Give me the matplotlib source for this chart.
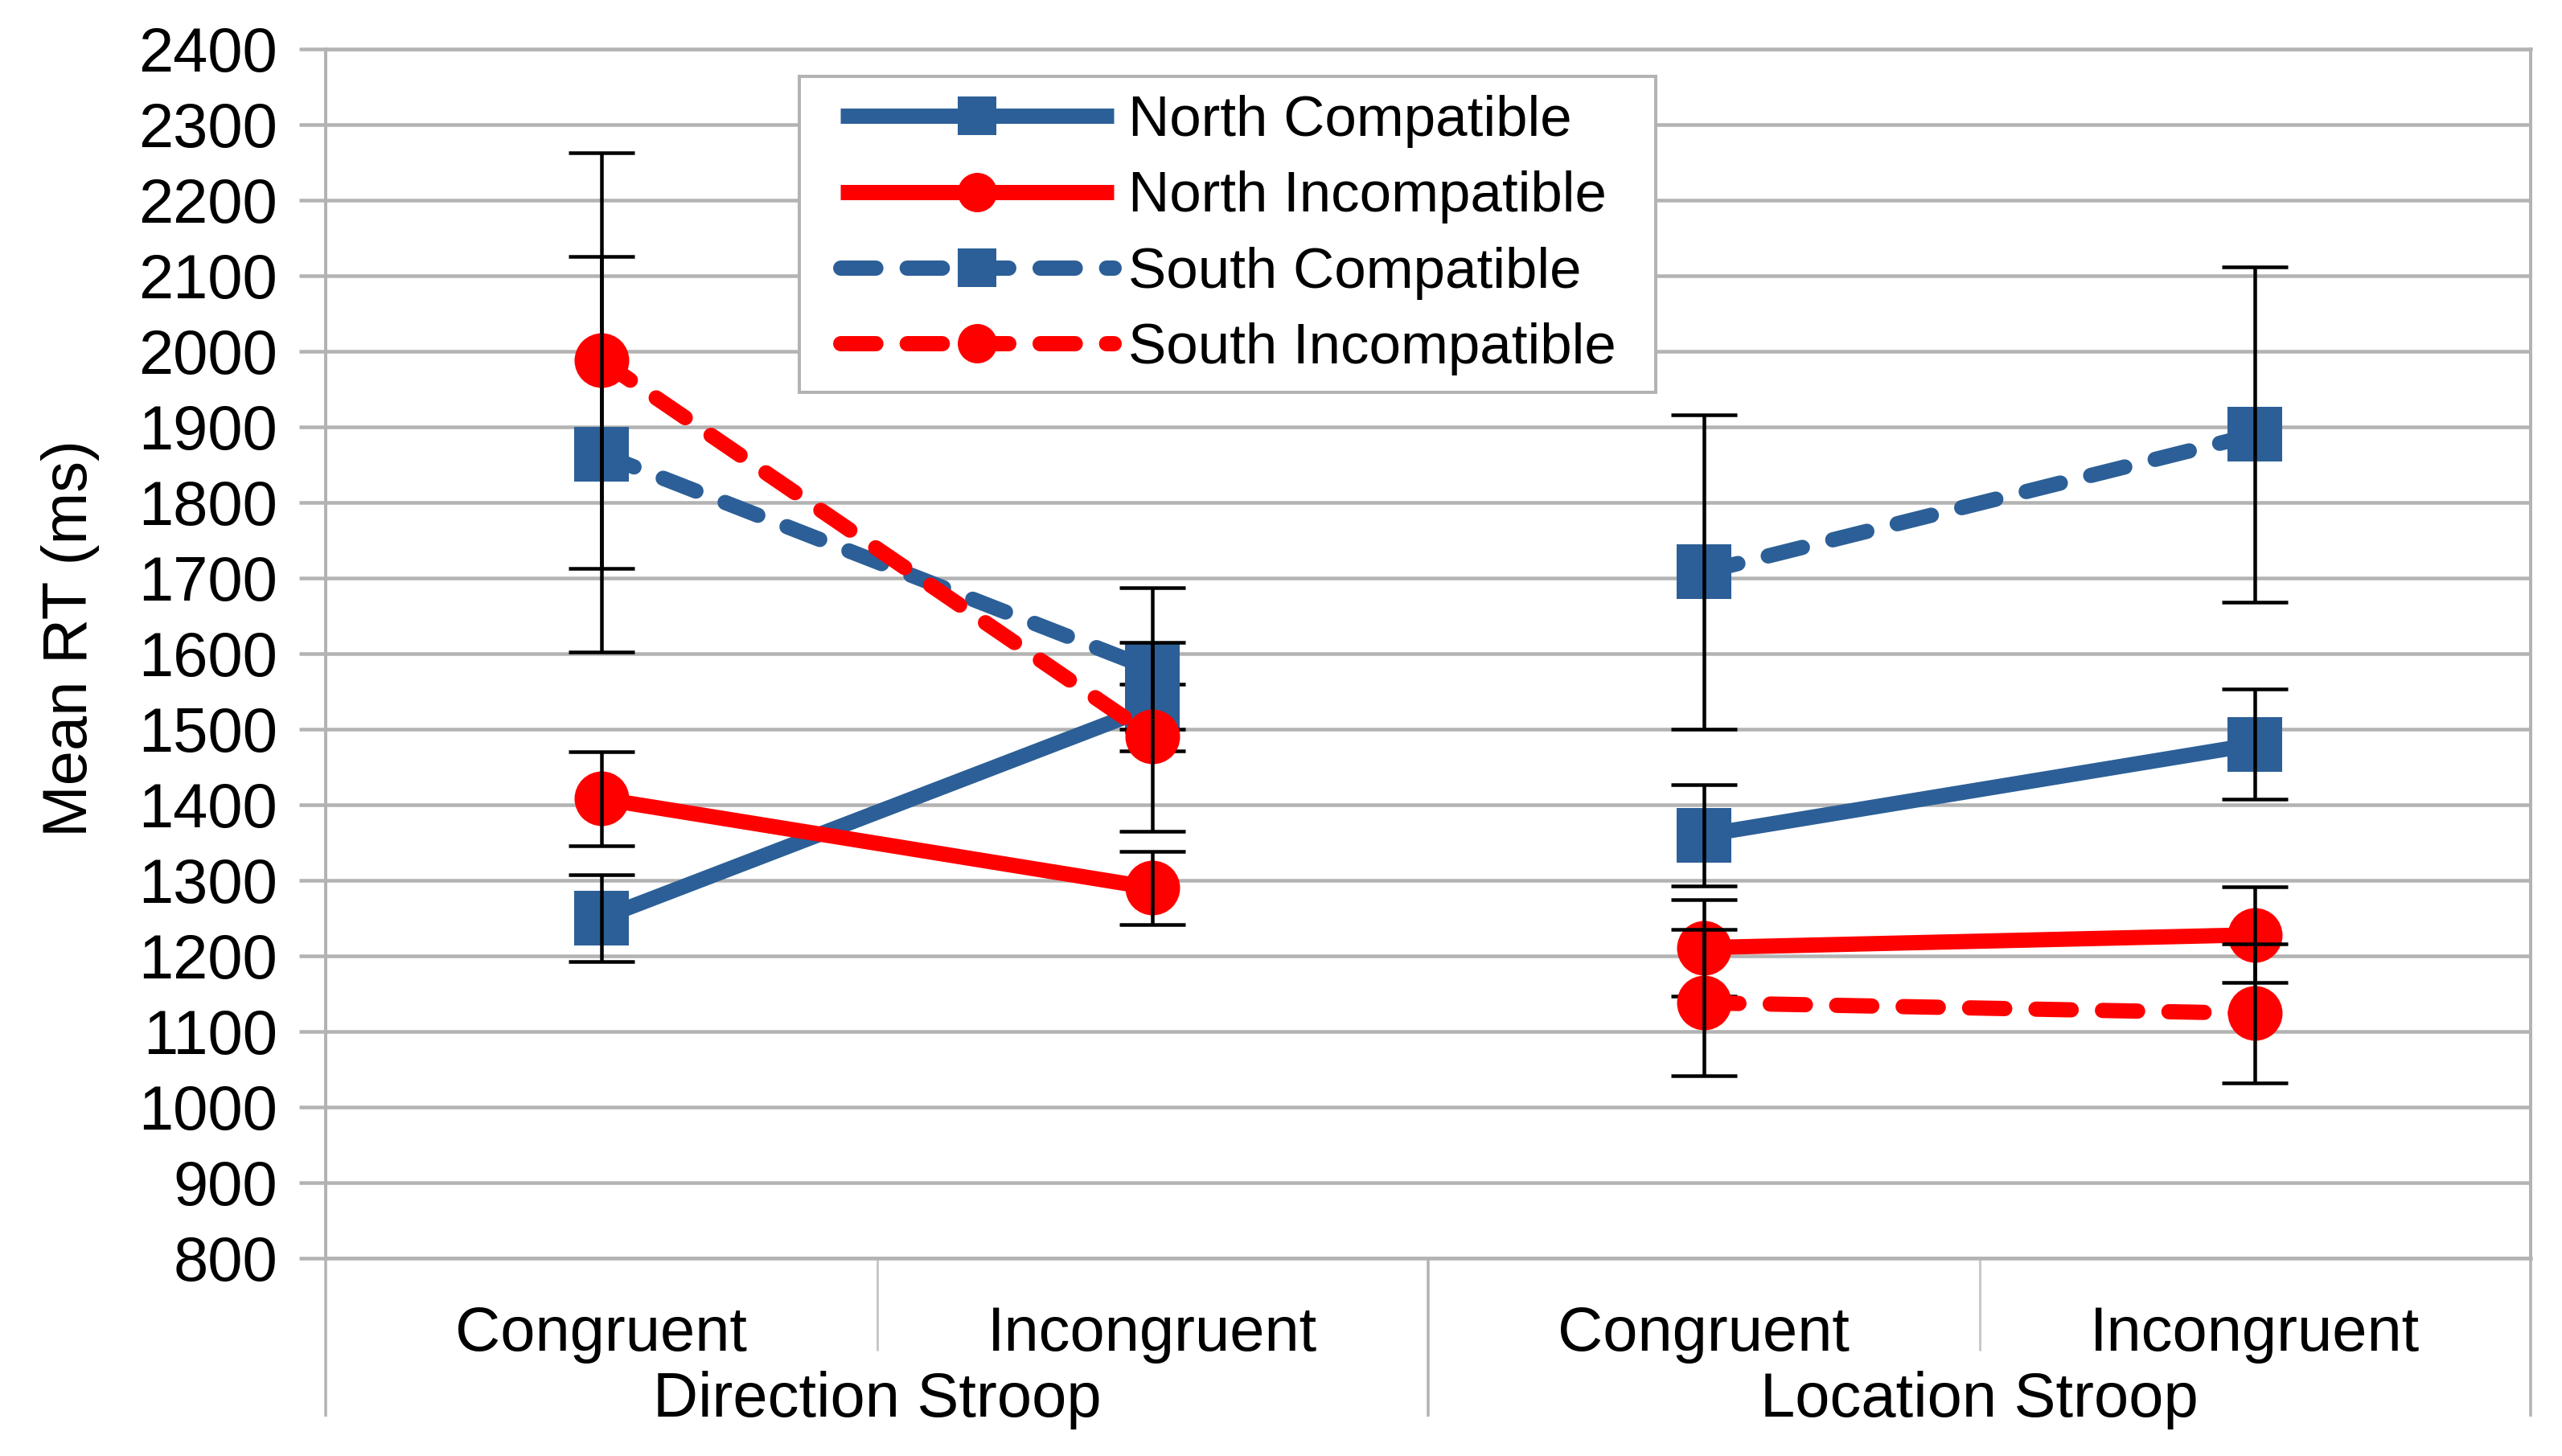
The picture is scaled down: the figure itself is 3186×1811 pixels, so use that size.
import matplotlib
matplotlib.use('Agg')
import matplotlib.pyplot as plt
from matplotlib.patches import Rectangle

plt.rcParams['font.family'] = ['Liberation Sans', 'DejaVu Sans']

# ---------------- data ----------------
categories = ['Congruent', 'Incongruent', 'Congruent', 'Incongruent']
groups = ['Direction Stroop', 'Location Stroop']
y_ticks = list(range(800, 2401, 100))

north_compatible = [1250, 1530, 1360, 1480]
north_compatible_err = [57, 30, 67, 73]
north_incompatible = [1408, 1290, 1211, 1228]
north_incompatible_err = [62, 48, 64, 63]
south_compatible = [1864, 1579, 1708, 1890]
south_compatible_err = [262, 108, 208, 222]
south_incompatible = [1988, 1490, 1138, 1124]
south_incompatible_err = [275, 125, 97, 92]

series_labels = ['North Compatible', 'North Incompatible',
                 'South Compatible', 'South Incompatible']

# ---------------- figure ----------------
W, H, DPI = 3186, 1811, 200
PX = 72.0 / DPI  # points per pixel
fig = plt.figure(figsize=(W / DPI, H / DPI), dpi=DPI)
ax_left, ax_right, ax_top, ax_bot = 405, 3147, 61, 1565
ax = fig.add_axes([ax_left / W, 1 - ax_bot / H,
                   (ax_right - ax_left) / W, (ax_bot - ax_top) / H])

BLUE = '#2C5F97'
RED = '#FF0000'
GRID = '#b3b3b3'

styles = [
    (north_compatible, north_compatible_err, BLUE, '-', 's'),
    (north_incompatible, north_incompatible_err, RED, '-', 'o'),
    (south_compatible, south_compatible_err, BLUE, (0, (2.3, 2.05)), 's'),
    (south_incompatible, south_incompatible_err, RED, (0, (2.3, 2.05)), 'o'),
]

xs = list(range(len(categories)))
handles = []
for i, ((vals, errs, col, ls, mk), lab) in enumerate(zip(styles, series_labels)):
    z = 3 + 2 * i
    for k, seg in enumerate(([0, 1], [2, 3])):
        ln, = ax.plot([xs[j] for j in seg], [vals[j] for j in seg],
                      color=col, lw=19 * PX, ls=ls, marker=mk,
                      ms=68 * PX, mfc=col, mec=col, mew=0,
                      dash_capstyle='round', solid_capstyle='butt',
                      zorder=z, label=lab if k == 0 else '_nolegend_')
        if k == 0:
            handles.append(ln)
    ax.errorbar(xs, vals, yerr=errs, fmt='none', ecolor='black',
                elinewidth=4.5 * PX, capsize=41 * PX, capthick=4.5 * PX,
                zorder=z + 1)

ax.set_xlim(-0.5, 3.5)
ax.set_ylim(800, 2400)
ax.set_yticks(y_ticks)
ax.set_yticklabels([str(t) for t in y_ticks])
ax.set_xticks([])
ax.tick_params(axis='y', length=33 * PX, width=4.5 * PX, color=GRID,
               pad=27 * PX, labelsize=28, labelcolor='black')
ax.grid(axis='y', color=GRID, lw=4.5 * PX)
ax.set_axisbelow(True)

for side in ['left', 'right']:
    ax.spines[side].set_color(GRID)
    ax.spines[side].set_linewidth(4 * PX)
for side in ['top', 'bottom']:
    ax.spines[side].set_color(GRID)
    ax.spines[side].set_linewidth(4.5 * PX)

axh = ax_bot - ax_top
trans = ax.get_xaxis_transform()
long_end = -(1762 - ax_bot) / axh
short_end = -(1680 - ax_bot) / axh
for xv in [-0.5, 1.5, 3.5]:
    ax.plot([xv, xv], [0, long_end], transform=trans, clip_on=False,
            color=GRID, lw=3.5 * PX, solid_capstyle='butt')
for xv in [0.5, 2.5]:
    ax.plot([xv, xv], [0, short_end], transform=trans, clip_on=False,
            color='#c8c8c8', lw=3 * PX, solid_capstyle='butt')

for xi, c in zip(xs, categories):
    ax.text(xi, -(1680 - ax_bot) / axh, c, transform=trans, ha='center',
            va='baseline', fontsize=28, color='black')
for gi, g in enumerate(groups):
    ax.text(2 * gi + 0.5, -(1762 - ax_bot) / axh, g, transform=trans,
            ha='center', va='baseline', fontsize=28, color='black')

fig.text(88 / W, 1 - 794 / H, 'Mean RT (ms)', rotation=90, ha='center',
         va='center', fontsize=28, color='black')

# legend
box = Rectangle((994 / W, 1 - 488 / H), (2059 - 994) / W, (488 - 95) / H,
                transform=fig.transFigure, facecolor='white',
                edgecolor=GRID, lw=4 * PX, zorder=15, clip_on=False)
ax.add_patch(box)
leg = ax.legend(handles, series_labels, loc='upper left',
                bbox_to_anchor=(1045 / W, 1 - 118 / H),
                bbox_transform=fig.transFigure, frameon=False,
                borderpad=0, borderaxespad=0, handlelength=4.8,
                handletextpad=0.25, labelspacing=0.4, markerscale=0.72,
                fontsize=25.5, numpoints=1)
leg.set_zorder(20)

fig.savefig('out.png', dpi=DPI, facecolor='white')
